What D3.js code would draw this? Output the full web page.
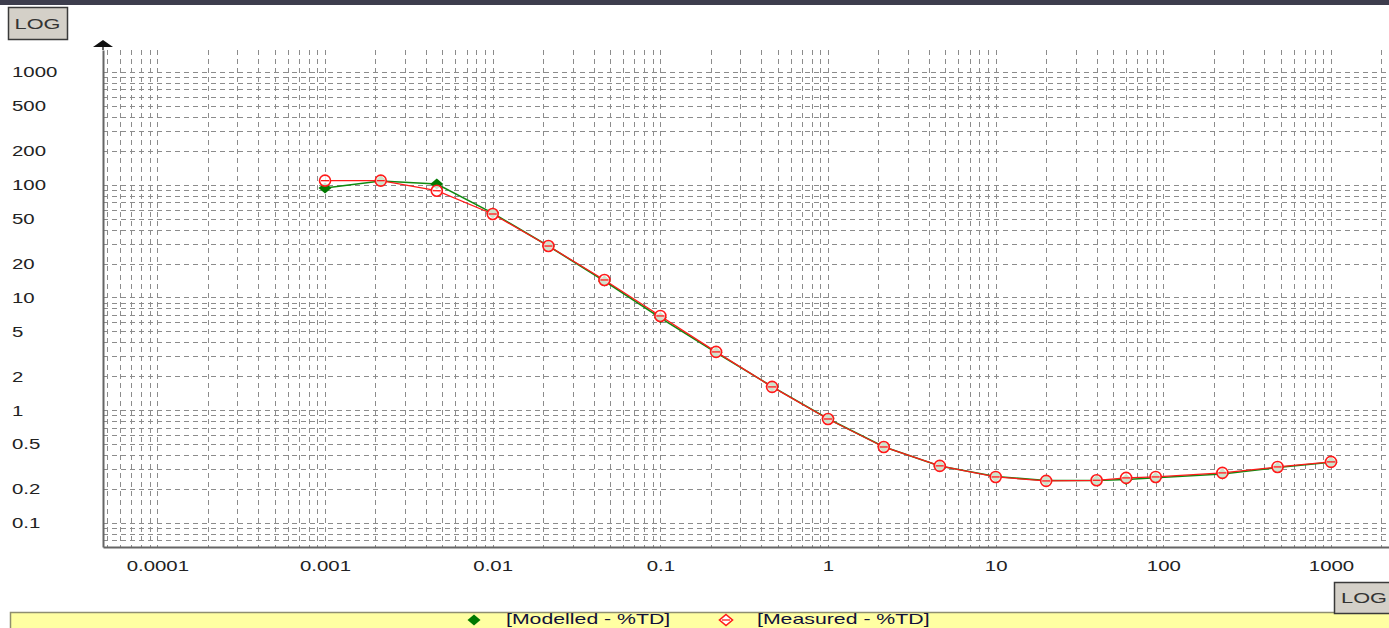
<!DOCTYPE html>
<html>
<head>
<meta charset="utf-8">
<script src="https://cdn.jsdelivr.net/npm/d3@7"></script>
<style>
    html, body { margin: 0; padding: 0; background: #fff; overflow: hidden; }
    text { font-family: "Liberation Sans", Arial, sans-serif; }
</style>
</head>
<body>
<div id="chart"></div>
<script>
// particle sizes (x) and the two series (%TD)
const sizes = [0.001, 0.00215, 0.00464, 0.01, 0.0215, 0.0464, 0.1, 0.215, 0.464, 1, 2.15, 4.64, 10, 20, 40, 60, 90, 225, 480, 1000];
const measured = [108.7, 108.7, 88.5, 55, 28.6, 14.3, 6.86, 3.29, 1.61, 0.836, 0.472, 0.321, 0.256, 0.236, 0.239, 0.251, 0.256, 0.278, 0.314, 0.348];
const modelled = [93.5, 108, 101.6, 56, 28.6, 14.0, 6.6, 3.25, 1.62, 0.84, 0.475, 0.32, 0.258, 0.238, 0.238, 0.243, 0.252, 0.272, 0.31, 0.345];

const xTicks = [0.0001, 0.001, 0.01, 0.1, 1, 10, 100, 1000];
const yTicks = [0.1, 0.2, 0.5, 1, 2, 5, 10, 20, 50, 100, 200, 500, 1000];
const legendLabels = ["[Modelled - %TD]", "[Measured - %TD]"];

const width = 1389, height = 628;
const STRETCH = 1.36; // the screenshot is stretched sideways, text too

const svg = d3.select("#chart")
    .append("svg")
    .attr("width", width)
    .attr("height", height);

// title strip on top
svg.append("rect")
    .attr("x", 0).attr("y", 0)
    .attr("width", width).attr("height", 5)
    .attr("fill", "#3d3d4d");

const x = d3.scaleLog()
    .domain([4.74e-5, 2218])
    .range([103, 1389]);

const y = d3.scaleLog()
    .domain([0.0612, 1567])
    .range([547, 50]);

// dashed grid on every log tick
const grid = svg.append("g")
    .attr("stroke", "#8c8c8c")
    .attr("stroke-width", 1)
    .attr("stroke-dasharray", "5,4")
    .attr("shape-rendering", "crispEdges");

grid.selectAll(".vgrid")
    .data(x.ticks())
    .enter()
    .append("line")
    .attr("class", "vgrid")
    .attr("x1", d => Math.round(x(d)) + 0.5)
    .attr("x2", d => Math.round(x(d)) + 0.5)
    .attr("y1", y.range()[1])
    .attr("y2", y.range()[0]);

grid.selectAll(".hgrid")
    .data(y.ticks().filter(d => y(d) < 546))
    .enter()
    .append("line")
    .attr("class", "hgrid")
    .attr("x1", x.range()[0])
    .attr("x2", x.range()[1])
    .attr("y1", d => Math.round(y(d)) + 0.5)
    .attr("y2", d => Math.round(y(d)) + 0.5);

// axes
const xAxis = svg.append("g")
    .attr("transform", "translate(0,547)")
    .call(d3.axisBottom(x)
        .tickValues(xTicks)
        .tickFormat(d => String(d))
        .tickSize(0)
        .tickPadding(13));

const yAxis = svg.append("g")
    .attr("transform", "translate(103,0)")
    .call(d3.axisLeft(y)
        .tickValues(yTicks)
        .tickFormat(d => String(d))
        .tickSize(0));

xAxis.select(".domain").attr("stroke", "#666").attr("stroke-width", 2);
yAxis.select(".domain").attr("stroke", "#666").attr("stroke-width", 2);

xAxis.selectAll("text")
    .attr("font-size", 15)
    .attr("fill", "#222")
    .attr("transform", `scale(${STRETCH},1)`);

yAxis.selectAll("text")
    .attr("font-size", 15)
    .attr("fill", "#222")
    .attr("x", 0)
    .attr("text-anchor", "start")
    .attr("transform", `translate(-91,0) scale(${STRETCH},1)`);

// y axis line up to the arrow
svg.append("line")
    .attr("x1", 103).attr("x2", 103)
    .attr("y1", 44).attr("y2", 50)
    .attr("stroke", "#666")
    .attr("stroke-width", 2);

svg.append("path")
    .attr("d", "M103,40L113,47L93,47Z")
    .attr("fill", "#111");

// series
const line = d3.line()
    .x(d => x(d[0]))
    .y(d => y(d[1]));

const modelledPts = sizes.map((s, i) => [s, modelled[i]]);
const measuredPts = sizes.map((s, i) => [s, measured[i]]);

const diamond = "M0,-5.5L6.5,0L0,5.5L-6.5,0Z";

svg.append("path")
    .datum(modelledPts)
    .attr("d", line)
    .attr("fill", "none")
    .attr("stroke", "#108a10")
    .attr("stroke-width", 1.6);

svg.selectAll(".mod")
    .data(modelledPts)
    .enter()
    .append("path")
    .attr("class", "mod")
    .attr("d", diamond)
    .attr("transform", d => `translate(${x(d[0])},${y(d[1])})`)
    .attr("fill", "#007a00");

svg.append("path")
    .datum(measuredPts)
    .attr("d", line)
    .attr("fill", "none")
    .attr("stroke", "#ff1a1a")
    .attr("stroke-width", 1.3);

const meas = svg.selectAll(".meas")
    .data(measuredPts)
    .enter()
    .append("g")
    .attr("class", "meas")
    .attr("transform", d => `translate(${x(d[0])},${y(d[1])})`);

meas.append("circle")
    .attr("r", 5.5)
    .attr("fill", "#fff")
    .attr("fill-opacity", 0.8)
    .attr("stroke", "#ff1a1a")
    .attr("stroke-width", 1.6);

meas.append("line")
    .attr("x1", -4).attr("x2", 4)
    .attr("stroke", "#ff1a1a")
    .attr("stroke-width", 1.3);

// LOG buttons
function logButton(bx, by, bw, bh) {
    svg.append("rect")
        .attr("x", bx + 0.5).attr("y", by + 0.5)
        .attr("width", bw).attr("height", bh)
        .attr("fill", "#d4d0c8")
        .attr("stroke", "#3a3a3a")
        .attr("stroke-width", 1.5);
    svg.append("text")
        .attr("transform", `translate(${bx + bw / 2},${by + bh / 2 + 5.5}) scale(1.45,1)`)
        .attr("text-anchor", "middle")
        .attr("font-size", 15)
        .attr("fill", "#333")
        .text("LOG");
}
logButton(8, 7, 59, 32);

// legend band
svg.append("rect")
    .attr("x", 10.5).attr("y", 612.5)
    .attr("width", width).attr("height", 30)
    .attr("fill", "#ffffa2")
    .attr("stroke", "#8e8e70")
    .attr("stroke-width", 1.5);

logButton(1334, 582, 60, 31);

const legend = svg.append("g");

legend.append("path")
    .attr("d", diamond)
    .attr("transform", "translate(474,620)")
    .attr("fill", "#007a00");

const legMeas = legend.append("g").attr("transform", "translate(726,620)");
legMeas.append("path")
    .attr("d", diamond)
    .attr("fill", "#fff")
    .attr("stroke", "#ff1a1a")
    .attr("stroke-width", 1.6);
legMeas.append("line")
    .attr("x1", -4).attr("x2", 4)
    .attr("stroke", "#ff1a1a")
    .attr("stroke-width", 1.3);

legend.selectAll(".legtext")
    .data(legendLabels)
    .enter()
    .append("text")
    .attr("class", "legtext")
    .attr("transform", (d, i) => `translate(${i === 0 ? 506 : 757},624) scale(1.52,1)`)
    .attr("font-size", 14)
    .attr("fill", "#10103a")
    .text(d => d);
</script>
</body>
</html>
